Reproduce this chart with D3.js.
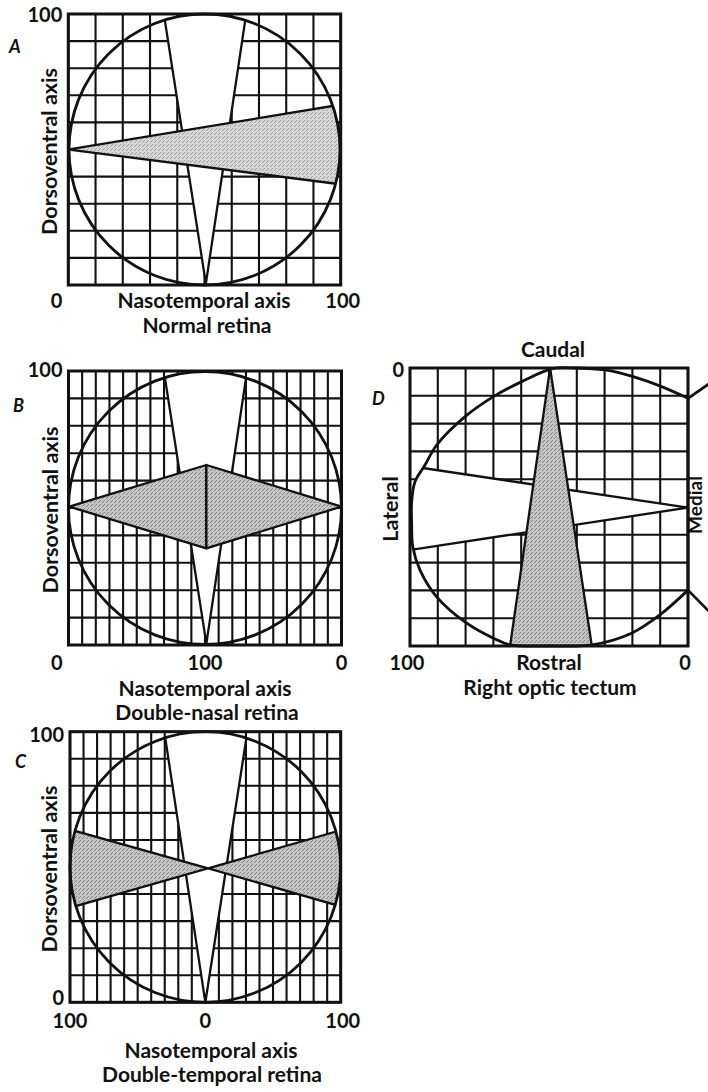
<!DOCTYPE html>
<html><head><meta charset="utf-8">
<script src="https://cdn.jsdelivr.net/npm/d3@7"></script>
<style>
html,body{margin:0;padding:0;background:#fff;}
svg{display:block;}
text{font-family:Lato,"Open Sans",sans-serif;font-weight:700;fill:#111;}
</style></head><body>
<svg id="chart" width="708" height="1092"></svg>
<script>
// ================= DATA =================
// Panel A – normal retina (x: nasotemporal 0..100, y: dorsoventral 0..100)
const aXTickValues = [0, 100];
const aXTickLabels = ["0", "100"];
const aYTickValues = [100];
const aYTickLabels = ["100"];
const aWhiteWedges = [[[50.5, 0.5], [35.5, 97.3], [64.9, 97.3]]];      // apex, rim point, rim point
const aGrayWedges = [[[0, 50], [96.7, 66.0], [97.3, 37.5]]];

// Panel B – double-nasal retina (positions 0..200 shown as 0-100-0)
const bXTickValues = [0, 100, 200];
const bXTickLabels = ["0", "100", "0"];
const bYTickValues = [100];
const bYTickLabels = ["100"];
const bWhiteWedges = [[[101, 0.5], [70.7, 97.3], [130.0, 97.3]]];
const bGrayTriangles = [
  [[0.5, 50.5], [101, 65.7], [101, 35.3]],
  [[200, 50.5], [101, 65.7], [101, 35.3]]
];

// Panel C – double-temporal retina (positions 0..200 shown as 100-0-100)
const cXTickValues = [0, 100, 200];
const cXTickLabels = ["100", "0", "100"];
const cYTickValues = [100, 0];
const cYTickLabels = ["100", "0"];
const cWhiteWedges = [[[100, 0], [70.7, 96.6], [130, 96.6]]];
const cGrayWedges = [
  [[102, 49.5], [7.4, 62.8], [7.4, 36.0]],
  [[102, 49.5], [194.6, 62.8], [194.6, 36.2]]
];

// Panel D – right optic tectum (x: 100 lateral .. 0 medial, y: 0 caudal .. 100 rostral)
const dXTickValues = [100, 0];
const dXTickLabels = ["100", "0"];
const dYTickValues = [0];
const dYTickLabels = ["0"];
const dOutline = [
  [0, 10.9], [9.5, 6.7], [19.7, 3.1], [29.9, 0.7], [40, 0], [49, 0.3], [59.8, 4.9],
  [70, 10.3], [80.2, 17.5], [90.4, 27.7], [94.6, 34.9], [98.2, 40.9], [99.4, 48.1],
  [99.4, 56], [99, 64.3], [96.4, 72.7], [90.4, 82.3], [79.6, 91.8], [70, 97.2],
  [64, 99.6], [50, 100], [34.6, 99.6], [20.3, 95.4], [10.1, 88.8], [0, 79.9]
];
const dWhiteWedges = [[[0, 50.2], [94.6, 36.1], [98.1, 65.2]]];
const dGrayTriangles = [[[49.6, 0], [64, 100], [34.6, 100]]];
const dNeighbourEdges = [[[0, 10.9], [-8, 5.4]], [[0, 79.9], [-8, 88.0]]];

// ================= LAYOUT =================
const svg = d3.select("#chart");
const defs = svg.append("defs");

function stipple(id, bg, dot) {
  const p = defs.append("pattern").attr("id", id).attr("width", 4).attr("height", 4)
    .attr("patternUnits", "userSpaceOnUse");
  p.append("rect").attr("width", 4).attr("height", 4).attr("fill", bg);
  p.append("rect").attr("x", 0).attr("y", 0).attr("width", 1).attr("height", 1).attr("fill", dot);
  p.append("rect").attr("x", 2).attr("y", 2).attr("width", 1).attr("height", 1).attr("fill", dot);
  p.append("rect").attr("x", 3).attr("y", 1).attr("width", 1).attr("height", 1).attr("fill", dot);
}
stipple("stipA", "#d6d6d6", "#a0a0a0");
stipple("stipB", "#c4c4c4", "#858585");

const INK = "#111";
const TICK_FS = 20, TITLE_FS = 21, SIDE_FS = 21.5;

function extend(w, k = 1.8) {
  const [a, r1, r2] = w;
  return [a, [a[0] + k * (r1[0] - a[0]), a[1] + k * (r1[1] - a[1])],
             [a[0] + k * (r2[0] - a[0]), a[1] + k * (r2[1] - a[1])]];
}

const panels = [
  { id: "A", left: 68.3, right: 340.7, top: 14, bottom: 285, xDomain: [0, 100], cols: 10, rows: 10,
    yDown: false, white: aWhiteWedges, grayW: aGrayWedges, grayT: [], fill: "url(#stipA)",
    xTicks: aXTickValues, xLabels: aXTickLabels, xAnchor: ["end", "middle"], xDx: [-6, 2], xDy: 23,
    yTicks: aYTickValues, yLabels: aYTickLabels, yDy: [8],
    letter: [9, 53], leftTitle: ["Dorsoventral axis", 57],
    titles: [["Nasotemporal axis", 204, 308], ["Normal retina", 207, 333]] },
  { id: "B", left: 68.5, right: 341.5, top: 371, bottom: 645, xDomain: [0, 200], cols: 20, rows: 10,
    yDown: false, white: bWhiteWedges, grayW: [], grayT: bGrayTriangles, fill: "url(#stipB)",
    xTicks: bXTickValues, xLabels: bXTickLabels, xAnchor: ["end", "middle", "middle"], xDx: [-6, 0, 0], xDy: 25,
    yTicks: bYTickValues, yLabels: bYTickLabels, yDy: [6],
    letter: [13, 412], leftTitle: ["Dorsoventral axis", 58],
    titles: [["Nasotemporal axis", 205, 696], ["Double-nasal retina", 207, 720]] },
  { id: "C", left: 70, right: 340.7, top: 731.7, bottom: 1002.3, xDomain: [0, 200], cols: 20, rows: 10,
    yDown: false, white: cWhiteWedges, grayW: cGrayWedges, grayT: [], fill: "url(#stipB)",
    xTicks: cXTickValues, xLabels: cXTickLabels, xAnchor: ["middle", "middle", "middle"], xDx: [0, 0, 2], xDy: 26,
    yTicks: cYTickValues, yLabels: cYTickLabels, yDy: [10, 3],
    letter: [15, 768], leftTitle: ["Dorsoventral axis", 57],
    titles: [["Nasotemporal axis", 211, 1058], ["Double-temporal retina", 212, 1082]] },
  { id: "D", left: 410, right: 688, top: 368, bottom: 646, xDomain: [100, 0], cols: 10, rows: 10,
    yDown: true, white: dWhiteWedges, grayW: [], grayT: dGrayTriangles, fill: "url(#stipB)",
    outline: dOutline, extra: dNeighbourEdges,
    xTicks: dXTickValues, xLabels: dXTickLabels, xAnchor: ["middle", "middle"], xDx: [-3, -3], xDy: 24,
    yTicks: dYTickValues, yLabels: dYTickLabels, yDy: [9],
    letter: [372, 405], leftTitle: ["Lateral", 398], rightTitle: ["Medial", 702],
    topTitle: ["Caudal", 357], bottomMid: ["Rostral", 670],
    titles: [["Right optic tectum", 550, 695]] }
];

function drawPanel(p) {
  const x = d3.scaleLinear().domain(p.xDomain).range([p.left, p.right]);
  const y = d3.scaleLinear().domain([0, 100]).range(p.yDown ? [p.top, p.bottom] : [p.bottom, p.top]);
  const line = d3.line().x(d => x(d[0])).y(d => y(d[1]));
  const g = svg.append("g").attr("class", "panel-" + p.id);

  // grid
  const xs = d3.range(p.cols + 1).map(i => p.xDomain[0] + i * (p.xDomain[1] - p.xDomain[0]) / p.cols);
  const ys = d3.range(p.rows + 1).map(i => i * 100 / p.rows);
  const grid = g.append("g").attr("stroke", INK).attr("stroke-width", 2.1);
  grid.selectAll("line.v").data(xs).join("line").attr("class", "v")
    .attr("x1", d => x(d)).attr("x2", d => x(d)).attr("y1", y(0)).attr("y2", y(100));
  grid.selectAll("line.h").data(ys).join("line").attr("class", "h")
    .attr("y1", d => y(d)).attr("y2", d => y(d)).attr("x1", x(p.xDomain[0])).attr("x2", x(p.xDomain[1]));

  // clip shape (circle or tectum outline)
  const clipId = "clip" + p.id;
  const cp = defs.append("clipPath").attr("id", clipId);
  let shape;
  if (p.outline) {
    const d = d3.line().x(d => x(d[0])).y(d => y(d[1])).curve(d3.curveCatmullRom.alpha(0.5))(p.outline) + "Z";
    cp.append("path").attr("d", d);
    shape = g.append("path").attr("d", d);
  } else {
    const xm = (p.xDomain[0] + p.xDomain[1]) / 2;
    const r = Math.min(Math.abs(x(p.xDomain[1]) - x(p.xDomain[0])), Math.abs(y(100) - y(0))) / 2;
    cp.append("circle").attr("cx", x(xm)).attr("cy", y(50)).attr("r", r);
    shape = g.append("circle").attr("cx", x(xm)).attr("cy", y(50)).attr("r", r);
  }
  shape.attr("fill", "none");

  const clipped = g.insert("g", () => shape.node()).attr("clip-path", `url(#${clipId})`);
  clipped.selectAll("path.white").data(p.white).join("path").attr("class", "white")
    .attr("d", d => line(extend(d)) + "Z").attr("fill", "#fff").attr("stroke", INK).attr("stroke-width", 2.3);
  clipped.selectAll("path.grayw").data(p.grayW).join("path").attr("class", "grayw")
    .attr("d", d => line(extend(d)) + "Z").attr("fill", p.fill).attr("stroke", INK).attr("stroke-width", 2.3);
  clipped.selectAll("path.grayt").data(p.grayT).join("path").attr("class", "grayt")
    .attr("d", d => line(d) + "Z").attr("fill", p.fill).attr("stroke", INK).attr("stroke-width", 2.3)
    .attr("stroke-linejoin", "round");

  shape.attr("stroke", INK).attr("stroke-width", 2.8);

  // frame
  g.append("rect").attr("x", x.range()[0]).attr("y", Math.min(y(0), y(100)))
    .attr("width", x.range()[1] - x.range()[0]).attr("height", Math.abs(y(100) - y(0)))
    .attr("fill", "none").attr("stroke", INK).attr("stroke-width", 3);

  if (p.extra) {
    g.selectAll("path.extra").data(p.extra).join("path").attr("class", "extra")
      .attr("d", d => line(d)).attr("fill", "none").attr("stroke", INK).attr("stroke-width", 2.8);
  }

  // tick labels
  g.selectAll("text.xt").data(p.xTicks).join("text").attr("class", "xt")
    .attr("x", (d, i) => x(d) + p.xDx[i]).attr("y", y.range()[p.yDown ? 1 : 0] + p.xDy)
    .attr("text-anchor", (d, i) => p.xAnchor[i]).attr("font-size", TICK_FS)
    .text((d, i) => p.xLabels[i]);
  g.selectAll("text.yt").data(p.yTicks).join("text").attr("class", "yt")
    .attr("x", p.left - 6).attr("y", (d, i) => y(d) + p.yDy[i])
    .attr("text-anchor", "end").attr("font-size", TICK_FS)
    .text((d, i) => p.yLabels[i]);

  // panel letter
  g.append("text").attr("x", p.letter[0]).attr("y", p.letter[1]).attr("font-size", 18)
    .attr("font-style", "italic").text(p.id);

  // rotated side titles
  g.append("text").attr("transform", `translate(${p.leftTitle[1]},${(p.top + p.bottom) / 2 + 2}) rotate(-90)`)
    .attr("text-anchor", "middle").attr("font-size", SIDE_FS).text(p.leftTitle[0]);
  if (p.rightTitle) {
    g.append("text").attr("transform", `translate(${p.rightTitle[1]},${(p.top + p.bottom) / 2 - 2}) rotate(-90)`)
      .attr("text-anchor", "middle").attr("font-size", 19).text(p.rightTitle[0]);
  }
  if (p.topTitle) {
    g.append("text").attr("x", x(50) + 4).attr("y", p.topTitle[1]).attr("text-anchor", "middle")
      .attr("font-size", TITLE_FS).text(p.topTitle[0]);
  }
  if (p.bottomMid) {
    g.append("text").attr("x", x(50)).attr("y", p.bottomMid[1]).attr("text-anchor", "middle")
      .attr("font-size", TITLE_FS).text(p.bottomMid[0]);
  }
  g.selectAll("text.title").data(p.titles).join("text").attr("class", "title")
    .attr("x", d => d[1]).attr("y", d => d[2]).attr("text-anchor", "middle")
    .attr("font-size", TITLE_FS).text(d => d[0]);
}

panels.forEach(drawPanel);
</script>
</body></html>
